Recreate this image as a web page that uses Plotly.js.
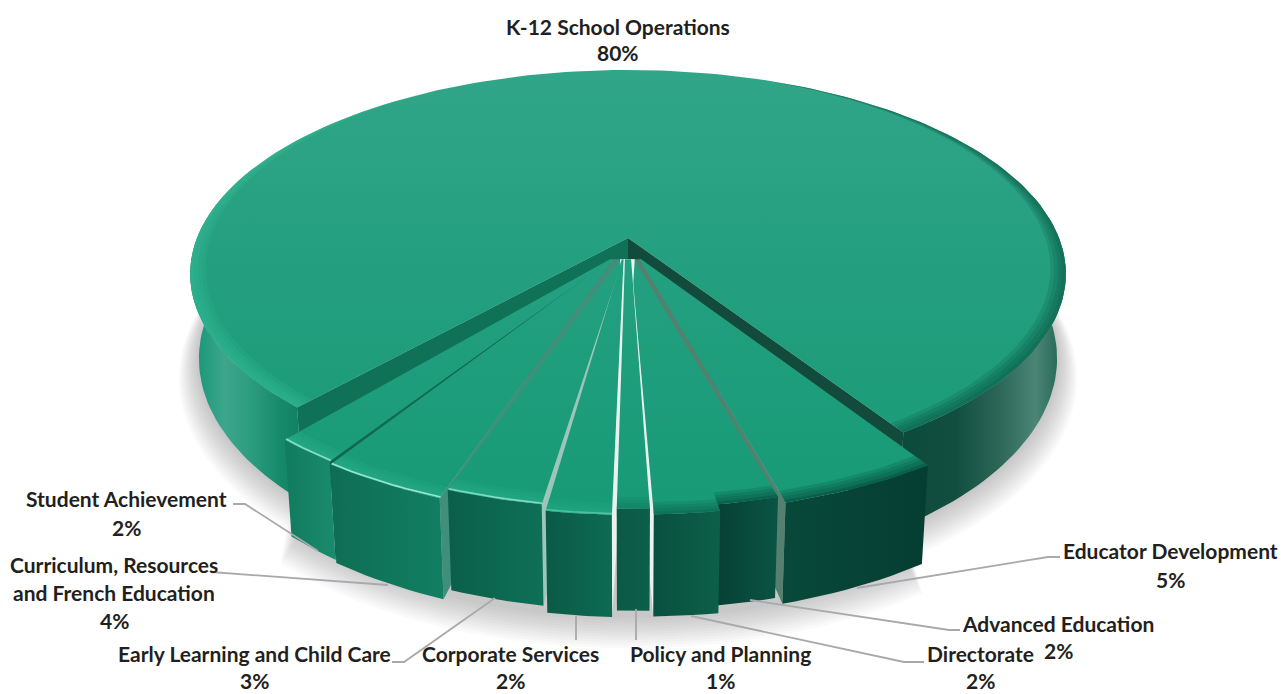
<!DOCTYPE html>
<html>
<head>
<meta charset="utf-8">
<title>Budget by division</title>
<script src="https://cdn.plot.ly/plotly-3.0.1.min.js"></script>
<style>html,body{margin:0;padding:0;background:#fff}#chart{width:1283px;height:694px}</style>
</head>
<body>
<div id="chart"></div>
<script>
// Spending share by division, clockwise from the lower right of the pie.
const categories = ['Educator Development', 'Advanced Education', 'Directorate', 'Policy and Planning',
  'Corporate Services', 'Early Learning and Child Care', 'Curriculum, Resources|and French Education',
  'Student Achievement', 'K-12 School Operations'];
const values = [5, 2, 2, 1, 2, 3, 4, 2, 80];

// Perspective disc: world (X,Y) on a unit circle, Y pointing at the viewer.
const view = {cx: 628, cy: 238, a: 431, b: 197.6, p: 0.176, wall: 82, shrink: 0.98, startDeg: 33};

// Per-slice explosion in world units: outer offset, apex x and half width, colours.
const sliceStyle = [
  {dx: .034, dy: .118, ax: .028, aw: .002, wall: ['#053d31', '#08493a'], face: '#55806f', faceSide: 'left'},
  {dx: .021, dy: .100, ax: .012, aw: .002, wall: ['#0a5444', '#073f33'], face: '#86a69c', faceSide: 'left'},
  {dx: .032, dy: .122, ax: .009, aw: .002, wall: ['#0c6049', '#09503f'], face: '#e8f3f0', faceSide: 'left'},
  {dx: .025, dy: .105, ax: 0,    aw: .007, wall: ['#0c5f4a', '#0b5a46'], face: null},
  {dx: .016, dy: .125, ax: -.012, aw: .002, wall: ['#0e6b52', '#0a5a46'], face: '#e8f3f0', faceSide: 'right'},
  {dx: .008, dy: .104, ax: -.014, aw: .002, wall: ['#0e7057', '#0b5f4a'], face: '#9cc6ba', faceSide: 'right'},
  {dx: -.005, dy: .132, ax: -.037, aw: .002, wall: ['#127e62', '#0e6e55'], face: '#3f8f7a', faceSide: 'right'},
  {dx: -.008, dy: .121, ax: -.039, aw: .002, wall: ['#1a8b6d', '#117a5f'], face: '#10694f', faceSide: 'right'}
];
// Edge tint of each slice: [soft band colour, thin line colour]
const rimStyle = [
  ['rgba(6,70,54,.2)', 'rgba(8,74,58,.3)'],
  ['rgba(6,74,58,.2)', 'rgba(8,80,62,.3)'],
  ['rgba(10,90,70,.18)', 'rgba(14,110,86,.25)'],
  ['rgba(16,110,86,.12)', 'rgba(30,140,110,.2)'],
  ['rgba(50,190,150,.1)', 'rgba(120,225,195,.5)'],
  ['rgba(60,200,160,.1)', 'rgba(170,240,220,.7)'],
  ['rgba(60,200,160,.1)', 'rgba(185,245,228,.8)'],
  ['rgba(60,200,160,.1)', 'rgba(170,240,220,.75)']
];
const drawOrder = [7, 0, 6, 1, 5, 2, 4, 3];

// Label placement: centre x and the centre y of every text line.
const labelX = [1170, 1058, 980, 720, 510, 254, 114, 126, 618];
const labelY = [[550, 579], [623, 650], [653, 680], [653, 680], [653, 680], [653, 680], [564, 592, 620], [498, 527], [26, 52]];
const leaders = [
  [[857, 588], [1048, 557], [1060, 557]],
  [[750, 600], [949, 630], [960, 630]],
  [[691, 616], [904, 662], [924, 662]],
  [[636, 609], [636, 640]],
  [[576, 616], [576, 640]],
  [[495, 598], [404, 662], [392, 662]],
  [[388, 585], [211, 572]],
  [[318, 551], [245, 504], [233, 504]]
];

const total = values.reduce((s, v) => s + v, 0);
const rad = d => d * Math.PI / 180;
const project = (X, Y) => {
  const k = 1 - view.p * Y;
  return [view.cx + view.a * X / k, view.cy + view.b * Y / k];
};
const dropped = (X, Y) => {
  const [px, py] = project(X, Y);
  return [view.cx + (px - view.cx) * view.shrink, py + view.wall / (1 - view.p * Y)];
};
const arc = (d1, d2, r, ox, oy, fn) => {
  const n = Math.max(4, Math.ceil(Math.abs(d2 - d1) / 1.5));
  const pts = [];
  for (let i = 0; i <= n; i++) {
    const d = rad(d1 + (d2 - d1) * i / n);
    const rr = typeof r === 'function' ? r(i / n) : r;
    pts.push(fn(ox + rr * Math.sin(d), oy + rr * Math.cos(d)));
  }
  return pts;
};

const traces = [];
function poly(points, style) {
  const t = {
    type: 'scatter', mode: 'lines', x: points.map(p => p[0]), y: points.map(p => p[1]),
    fill: 'toself', line: {width: 0, color: 'rgba(0,0,0,0)'}, hoverinfo: 'skip', showlegend: false
  };
  if (style.grad) {
    const horiz = style.grad === 'h';
    const vals = horiz ? t.x : t.y;
    t.fillgradient = {
      type: horiz ? 'horizontal' : 'vertical',
      start: style.start !== undefined ? style.start : Math.min(...vals),
      stop: style.stop !== undefined ? style.stop : Math.max(...vals),
      colorscale: style.stops
    };
  } else {
    t.fillcolor = style.fill;
  }
  traces.push(t);
}
function stroke(points, color, width) {
  traces.push({
    type: 'scatter', mode: 'lines', x: points.map(p => p[0]), y: points.map(p => p[1]),
    line: {color: color, width: width}, hoverinfo: 'skip', showlegend: false
  });
}

// Angular span of every slice, walking clockwise on screen from startDeg.
const spans = [];
let walk = view.startDeg;
values.forEach(v => {
  const sweep = v / total * 360;
  spans.push([walk, walk - sweep]);
  walk -= sweep;
});
const mainSpan = spans[spans.length - 1];
const small = spans.slice(0, -1);
const mA = mainSpan[0], mB = mainSpan[1];

// Soft ground shadow, built from enlarged outlines of the base.
for (let k = 12; k >= 1; k--) {
  const grow = 1 + k * 0.0032, low = k * 0.003;
  const ground = (X, Y) => {
    const q = dropped(X, Y);
    return [q[0], q[1] + k * 0.7];
  };
  const outline = arc(view.startDeg, mA + 360, grow, 0, low, ground)
    .concat(arc(mA, view.startDeg, grow, 0.005, 0.118 + low, ground));
  poly(outline, {fill: 'rgba(105,105,105,0.032)'});
}

// Cut faces of the large slice, then its curved wall and top.
const faceOf = (d, ox, oy, ax, ay) => {
  const tipX = ox + Math.sin(rad(d)), tipY = oy + Math.cos(rad(d));
  return [project(ax, ay), project(tipX, tipY), dropped(tipX, tipY), dropped(ax, ay)];
};
poly(faceOf(mA, 0, 0, 0, 0), {fill: '#0f7156'});
poly(faceOf(view.startDeg, 0, 0, 0, 0), {fill: '#124a3b'});

const wallOf = (d1, d2, ox, oy) =>
  arc(d1, d2, 1, ox, oy, project).concat(arc(d2, d1, 1, ox, oy, dropped));

poly(wallOf(mA, mA - 70, 0, 0), {grad: 'h', stops: [
  [0, '#16906f'], [0.1, '#209a7b'], [0.3, '#3da68c'], [0.55, '#2b9b7e'], [0.8, '#158a6a'], [1, '#108062']]});
poly(wallOf(view.startDeg, view.startDeg + 70, 0, 0), {grad: 'h', stops: [
  [0, '#0b4a3a'], [0.35, '#134f40'], [0.6, '#2b6657'], [0.82, '#4b8575'], [0.93, '#2f6f5d'], [1, '#176451']]});

poly([project(0, 0)].concat(arc(mA, mB, 1, 0, 0, project)), {
  grad: 'v', start: 70, stop: 478, stops: [[0, '#31a588'], [0.5, '#239f7f'], [1, '#1a9b77']]
});

// Rounded top edge: nested translucent bands, tapering away towards the back.
const softEdge = (d1, d2, ox, oy, colour, taper) => {
  [0.04, 0.03, 0.02, 0.01].forEach(w => {
    const inner = taper ? t => 1 - w * (1 - t * t) : 1 - w;
    poly(arc(d1, d2, 1, ox, oy, project).concat(arc(d1, d2, inner, ox, oy, project).reverse()), {fill: colour});
  });
};
softEdge(mA, mA - 105, 0, 0, 'rgba(55,195,155,.16)', true);
softEdge(view.startDeg, view.startDeg + 125, 0, 0, 'rgba(8,85,65,.2)', true);

// Exploded slices, painted from the outer ones towards the centre.
drawOrder.forEach(i => {
  const st = sliceStyle[i], [d1, d2] = small[i];
  const ay = 0.105;
  if (st.face) {
    // The face widens under its inner neighbour so the gap between them stays filled.
    const left = st.faceSide === 'left';
    const f = faceOf(left ? d2 : d1, st.dx, st.dy, st.ax, ay);
    f[3] = [f[0][0] + (left ? -12 : 12), f[0][1]];
    poly(f, {fill: st.face});
  }
  poly(wallOf(d1, d2, st.dx, st.dy), {grad: 'h', stops: [[0, st.wall[1]], [1, st.wall[0]]]});
  const apexPts = [project(st.ax - st.aw, ay), project(st.ax + st.aw, ay)];
  poly(apexPts.concat(arc(d1, d2, 1, st.dx, st.dy, project)), {grad: 'v', start: 260, stop: 525,
    stops: [[0, '#23a080'], [1, '#179a76']]});
  softEdge(d1, d2, st.dx, st.dy, rimStyle[i][0], false);
  stroke(arc(d1, d2, 0.996, st.dx, st.dy, project), rimStyle[i][1], 1.6);
});

// Leader lines and text.
const shapes = leaders.map(pts => ({
  type: 'path', xref: 'x', yref: 'y',
  path: 'M' + pts.map(p => p.join(',')).join('L'),
  line: {color: '#a7a9ac', width: 1.8}
}));
const annotations = [];
categories.forEach((name, i) => {
  const lines = name.split('|').concat([values[i] + '%']);
  lines.forEach((text, j) => annotations.push({
    xref: 'x', yref: 'y', x: labelX[i], y: labelY[i][j], text: text, showarrow: false,
    xanchor: 'center', yanchor: 'middle',
    font: {family: 'Lato, sans-serif', size: 21, weight: 700, color: '#231f20'}
  }));
});

Plotly.newPlot('chart', traces, {
  width: 1283, height: 694, margin: {l: 0, r: 0, t: 0, b: 0},
  paper_bgcolor: '#fff', plot_bgcolor: '#fff', showlegend: false,
  xaxis: {range: [0, 1283], visible: false, fixedrange: true},
  yaxis: {range: [694, 0], visible: false, fixedrange: true},
  shapes: shapes, annotations: annotations
}, {displayModeBar: false, staticPlot: true});
</script>
</body>
</html>
